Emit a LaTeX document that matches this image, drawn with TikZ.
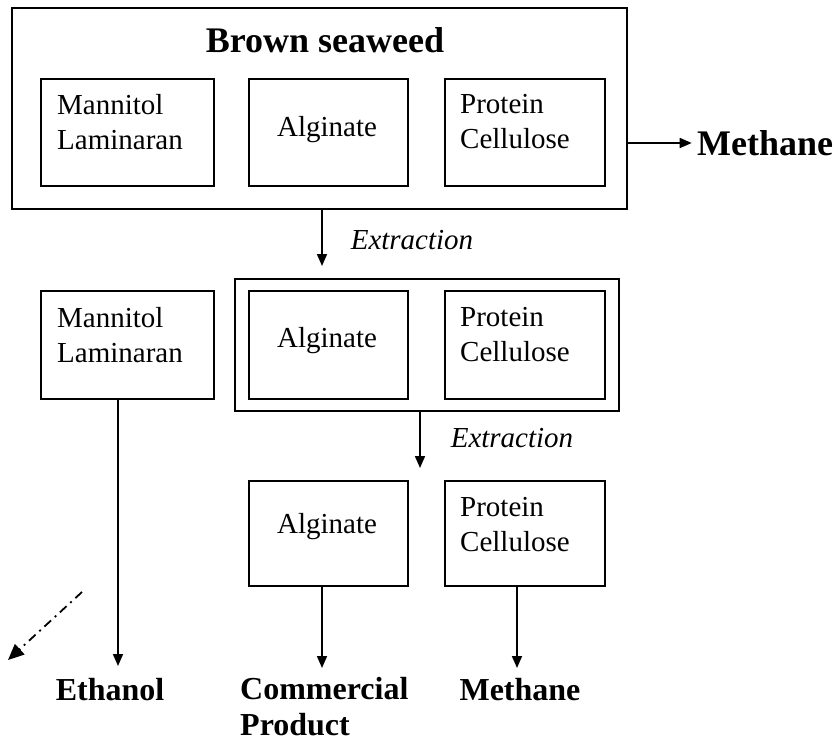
\documentclass[tikz,border=0pt]{standalone}
\usepackage{fontspec}
\setmainfont{Liberation Serif}
\usetikzlibrary{arrows.meta,calc}
\begin{document}
\begin{tikzpicture}[x=1pt,y=-1pt,
  box/.style={draw,line width=1.7pt,inner sep=0pt,anchor=north west},
  txt/.style={font=\fontsize{29}{35}\selectfont,inner sep=0pt,align=left},
  itxt/.style={font=\fontsize{29}{35}\selectfont\itshape,inner sep=0pt},
  btxt/.style={font=\fontsize{32}{36}\selectfont\bfseries,inner sep=0pt,align=left},
  bigtxt/.style={font=\fontsize{36}{40}\selectfont\bfseries,inner sep=0pt},
  arr/.style={line width=1.7pt,-{Triangle[length=12pt,width=10pt]}},
  dasharr/.style={line width=1.8pt,dash pattern=on 9pt off 5pt on 2pt off 5pt,-{Triangle[length=16pt,width=14pt]}}
]
\useasboundingbox (0,0) rectangle (839,742);
% top
\node[box,minimum width=615pt,minimum height=201pt] (outer) at (11,7) {};
\node[bigtxt] (brown) at (325,40) {Brown seaweed};
\node[box,minimum width=173pt,minimum height=107pt] (m1) at (40,78) {};
\node[box,minimum width=159pt,minimum height=107pt] (a1) at (248,78) {};
\node[box,minimum width=160pt,minimum height=107pt] (p1) at (444,78) {};
\node[txt,anchor=west] (m1t) at (57,122) {Mannitol\\Laminaran};
\node[txt] (a1t) at (327,130) {Alginate};
\node[txt,anchor=west] (p1t) at (460,122) {Protein\\Cellulose};
\node[bigtxt,anchor=west] (meth1) at (697,143) {Methane};
\draw[arr] (outer.east |- meth1.west) -- ++(64,0);
% extraction 1
\node[box,minimum width=384pt,minimum height=132pt] (dbl) at (234,278) {};
\coordinate (e1s) at (322,208);
\draw[arr] (e1s) -- (e1s |- 0,266);
\node[itxt] (ex1) at (412,240) {Extraction};
% row 2
\node[box,minimum width=173pt,minimum height=108pt] (m2) at (40,290) {};
\node[box,minimum width=159pt,minimum height=108pt] (a2) at (248,290) {};
\node[box,minimum width=160pt,minimum height=108pt] (p2) at (444,290) {};
\node[txt,anchor=west] (m2t) at (57,335) {Mannitol\\Laminaran};
\node[txt] (a2t) at (327,341) {Alginate};
\node[txt,anchor=west] (p2t) at (460,335) {Protein\\Cellulose};
% extraction 2
\coordinate (e2s) at (420,410);
\draw[arr] (e2s) -- (e2s |- 0,468);
\node[itxt] (ex2) at (512,438) {Extraction};
% row 3
\node[box,minimum width=159pt,minimum height=105pt] (a3) at (248,480) {};
\node[box,minimum width=160pt,minimum height=105pt] (p3) at (444,480) {};
\node[txt] (a3t) at (327,527) {Alginate};
\node[txt,anchor=west] (p3t) at (460,525) {Protein\\Cellulose};
% outputs
\node[btxt] (eth) at (110,690) {Ethanol};
\node[btxt,anchor=west] (comm) at (240,707) {Commercial\\Product};
\node[btxt] (meth2) at (520,690) {Methane};
\coordinate (m2s) at (118,398);
\draw[arr] (m2s) -- (m2s |- 0,666);
\coordinate (a3s) at (322,585);
\draw[arr] (a3s) -- (a3s |- 0,668);
\coordinate (p3s) at (517,585);
\draw[arr] (p3s) -- (p3s |- 0,668);
% dash-dot arrow
\coordinate (ds) at (82,592);
\coordinate (de) at (8,660);
\draw[dasharr] (ds) -- (de);
\end{tikzpicture}
\end{document}
